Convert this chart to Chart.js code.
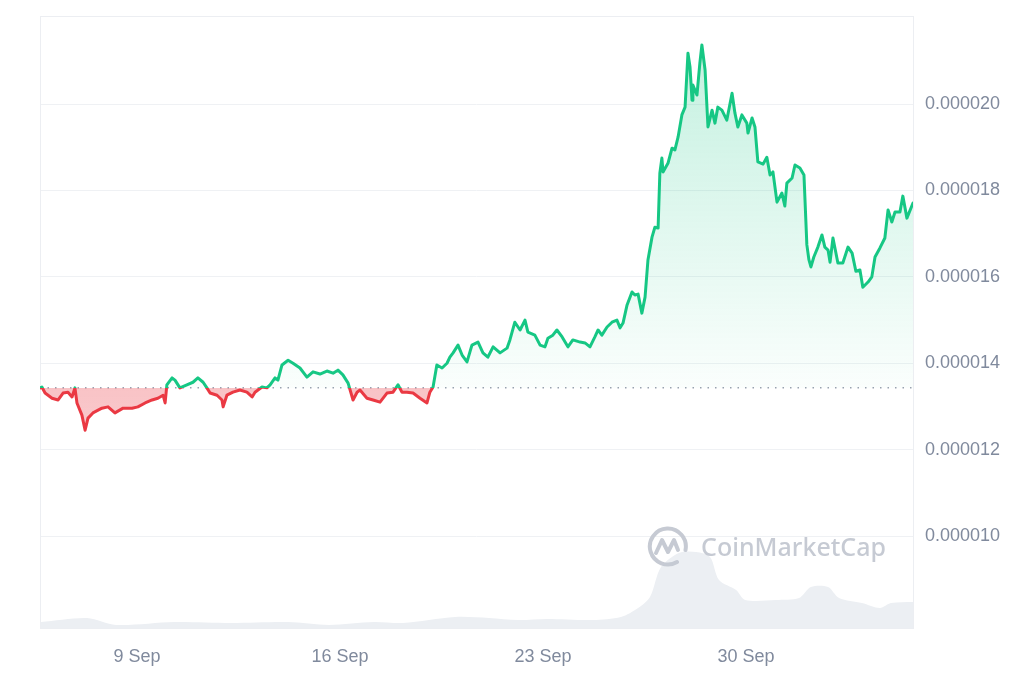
<!DOCTYPE html>
<html><head><meta charset="utf-8">
<script src="https://cdn.jsdelivr.net/npm/chart.js@4.4.1/dist/chart.umd.min.js"></script>
<style>
html,body{margin:0;padding:0;background:#fff;}
#wrap{position:relative;width:1024px;height:683px;}
#wm{position:absolute;left:647px;top:525px;display:flex;align-items:center;gap:12px;color:#c3c8d1;font-family:'Noto Sans',sans-serif;font-size:25px;font-weight:500;pointer-events:none;opacity:0.95;}
</style></head><body>
<div id="wrap"><canvas id="c"></canvas>
<div id="wm"><svg width="42" height="42" viewBox="0 0 42 42" fill="none" stroke="#c3c8d1" stroke-width="4" stroke-linecap="round" stroke-linejoin="round"><path d="M30 37 A18 18 0 1 1 38.5 25"/><path d="M9 28 L15 15 L21 27 L27 15 L31 25"/></svg><span>CoinMarketCap</span></div>
</div>
<script>
// day of September (1 Oct = 31)
const priceDays = [5.66,5.72,5.83,6.07,6.28,6.45,6.62,6.76,6.86,6.93,7.10,7.21,7.31,7.48,7.79,8.00,8.24,8.52,8.83,9.03,9.28,9.52,9.72,9.90,9.97,10.03,10.21,10.31,10.48,10.72,10.93,11.10,11.28,11.41,11.52,11.76,11.93,11.97,12.10,12.31,12.55,12.79,12.97,13.07,13.31,13.48,13.59,13.76,13.86,14.00,14.21,14.38,14.62,14.86,15.07,15.31,15.55,15.76,15.93,16.10,16.28,16.45,16.59,16.69,16.93,17.14,17.38,17.62,17.83,18.00,18.14,18.31,18.52,18.76,19.00,19.10,19.21,19.34,19.52,19.69,19.79,19.90,20.07,20.21,20.38,20.55,20.76,20.93,21.10,21.28,21.52,21.76,21.86,22.03,22.21,22.38,22.48,22.72,22.90,23.07,23.17,23.34,23.48,23.66,23.86,24.03,24.28,24.45,24.62,24.79,24.90,25.03,25.21,25.38,25.55,25.66,25.76,25.90,26.07,26.17,26.28,26.41,26.52,26.62,26.76,26.86,26.97,27.03,27.10,27.14,27.31,27.45,27.55,27.66,27.79,27.90,28.00,28.07,28.14,28.17,28.31,28.41,28.48,28.59,28.69,28.83,28.93,29.03,29.17,29.34,29.52,29.62,29.72,29.86,30.03,30.07,30.21,30.31,30.41,30.59,30.72,30.83,30.93,31.07,31.24,31.34,31.41,31.59,31.69,31.86,32.00,32.10,32.17,32.24,32.34,32.48,32.62,32.72,32.83,32.90,33.00,33.17,33.34,33.52,33.66,33.79,33.93,34.03,34.21,34.34,34.45,34.62,34.79,34.90,35.03,35.14,35.31,35.41,35.55,35.76];
const prices = [13.43e-6,13.45e-6,13.31e-6,13.19e-6,13.15e-6,13.31e-6,13.33e-6,13.22e-6,13.43e-6,13.08e-6,12.80e-6,12.45e-6,12.73e-6,12.85e-6,12.96e-6,12.99e-6,12.85e-6,12.96e-6,12.96e-6,12.99e-6,13.08e-6,13.15e-6,13.19e-6,13.26e-6,13.08e-6,13.50e-6,13.66e-6,13.61e-6,13.43e-6,13.50e-6,13.56e-6,13.66e-6,13.56e-6,13.43e-6,13.31e-6,13.26e-6,13.15e-6,12.99e-6,13.26e-6,13.33e-6,13.38e-6,13.33e-6,13.22e-6,13.33e-6,13.45e-6,13.43e-6,13.50e-6,13.66e-6,13.61e-6,13.96e-6,14.07e-6,14.00e-6,13.89e-6,13.68e-6,13.80e-6,13.75e-6,13.82e-6,13.77e-6,13.84e-6,13.73e-6,13.54e-6,13.15e-6,13.33e-6,13.38e-6,13.19e-6,13.15e-6,13.10e-6,13.31e-6,13.33e-6,13.50e-6,13.33e-6,13.33e-6,13.31e-6,13.19e-6,13.08e-6,13.33e-6,13.45e-6,13.96e-6,13.89e-6,14.00e-6,14.14e-6,14.24e-6,14.42e-6,14.19e-6,14.03e-6,14.42e-6,14.49e-6,14.24e-6,14.14e-6,14.38e-6,14.24e-6,14.35e-6,14.54e-6,14.95e-6,14.77e-6,15.00e-6,14.72e-6,14.65e-6,14.42e-6,14.38e-6,14.58e-6,14.65e-6,14.77e-6,14.61e-6,14.38e-6,14.54e-6,14.49e-6,14.47e-6,14.38e-6,14.61e-6,14.77e-6,14.65e-6,14.84e-6,14.95e-6,15.00e-6,14.82e-6,14.93e-6,15.35e-6,15.65e-6,15.58e-6,15.60e-6,15.16e-6,15.53e-6,16.39e-6,16.92e-6,17.15e-6,17.13e-6,18.40e-6,18.75e-6,18.43e-6,18.63e-6,18.98e-6,18.94e-6,19.24e-6,19.75e-6,19.93e-6,21.18e-6,20.86e-6,20.09e-6,20.44e-6,20.21e-6,20.95e-6,21.37e-6,20.79e-6,19.47e-6,19.86e-6,19.56e-6,19.93e-6,19.86e-6,19.63e-6,20.25e-6,19.79e-6,19.47e-6,19.75e-6,19.56e-6,19.33e-6,19.68e-6,19.47e-6,18.66e-6,18.61e-6,18.77e-6,18.36e-6,18.43e-6,17.73e-6,17.94e-6,17.64e-6,18.17e-6,18.29e-6,18.59e-6,18.52e-6,18.36e-6,16.74e-6,16.40e-6,16.23e-6,16.46e-6,16.69e-6,16.97e-6,16.69e-6,16.62e-6,16.34e-6,16.90e-6,16.32e-6,16.32e-6,16.69e-6,16.55e-6,16.13e-6,16.16e-6,15.76e-6,15.88e-6,16.00e-6,16.46e-6,16.67e-6,16.90e-6,17.55e-6,17.27e-6,17.50e-6,17.50e-6,17.87e-6,17.36e-6,17.71e-6];
const volumeDays = [5.69,7.28,8.28,10.28,12.24,14.21,15.62,17.17,18.17,19.97,21.14,22.14,23.14,24.72,25.69,26.28,26.69,27.07,27.69,28.28,28.76,29.07,29.66,29.97,31.03,31.83,32.24,32.83,33.21,34.00,34.62,35.00,35.76];
const volumes = [4.9,8.2,2.5,4.9,4.1,4.9,2.5,4.9,4.1,9.0,8.2,6.5,7.4,6.5,9.0,16.3,25.3,49.8,61.3,62.1,58.0,39.2,31.0,22.9,22.9,24.5,33.5,33.5,24.5,20.4,16.3,20.4,21.2];
const xTickDays = [9,16,23,30];
const xTickLabels = ['9 Sep','16 Sep','23 Sep','30 Sep'];
const yTickValues = [0.000010,0.000012,0.000014,0.000016,0.000018,0.000020];
const xRange = [5.655,35.76];
const yRange = [7.87e-6,22.04e-6];
const volumeMax = 500;
const openPrice = prices[0];

const GREEN = '#16c784', RED = '#ea3943', LABEL = '#808a9d', GRID = '#eff1f4';

function splitGrad(chart, stops){
  const a = chart.chartArea;
  const by = chart.scales.y.getPixelForValue(openPrice);
  const f = Math.min(Math.max((by - a.top)/(a.bottom - a.top),0),1);
  const g = chart.ctx.createLinearGradient(0,a.top,0,a.bottom);
  g.addColorStop(0,stops[0]); g.addColorStop(f,stops[1]);
  g.addColorStop(f,stops[2]); g.addColorStop(1,stops[3]);
  return g;
}

const framePlugin = {id:'frame', beforeDatasetsDraw(chart){
  const {ctx, chartArea:a} = chart;
  ctx.save(); ctx.strokeStyle = '#eceef2'; ctx.lineWidth = 1;
  ctx.strokeRect(Math.round(a.left)+0.5, Math.round(a.top)+0.5, Math.round(a.right-a.left), Math.round(a.bottom-a.top));
  ctx.restore();
}};

new Chart(document.getElementById('c'), {
  type:'line',
  data:{datasets:[
    {label:'Price', data: priceDays.map((d,i)=>({x:d,y:prices[i]})), yAxisID:'y',
     borderColor: ctx => ctx.chart.chartArea ? splitGrad(ctx.chart,[GREEN,GREEN,RED,RED]) : GREEN,
     backgroundColor: ctx => ctx.chart.chartArea ? splitGrad(ctx.chart,['rgba(22,199,132,0.27)','rgba(22,199,132,0.02)','rgba(234,57,67,0.30)','rgba(234,57,67,0.14)']) : 'rgba(22,199,132,0.1)',
     fill:{value: openPrice}, borderWidth:3, borderJoinStyle:'round', borderCapStyle:'round', pointRadius:0, tension:0, order:1},
    {label:'Open', data:[{x:xRange[0],y:openPrice},{x:xRange[1],y:openPrice}], yAxisID:'y',
     borderColor:'#9aa1b0', borderDash:[1.5,6], borderWidth:1.5, pointRadius:0, fill:false, order:2},
    {label:'Volume', data: volumeDays.map((d,i)=>({x:d,y:volumes[i]})), yAxisID:'yv',
     borderWidth:0, borderColor:'rgba(0,0,0,0)', backgroundColor:'#eceff3', fill:'origin', pointRadius:0, tension:0.3, order:3}
  ]},
  options:{
    responsive:true, maintainAspectRatio:false, animation:false,
    layout:{padding:{left:40, top:16, right:0, bottom:0}},
    plugins:{legend:{display:false}, tooltip:{enabled:false}},
    scales:{
      x:{type:'linear', min:xRange[0], max:xRange[1],
         grid:{display:false, drawTicks:false}, border:{display:false},
         afterBuildTicks: s => { s.ticks = xTickDays.map(v=>({value:v})); },
         ticks:{callback: v => xTickLabels[xTickDays.indexOf(v)], color:LABEL, padding:18, maxRotation:0, autoSkip:false,
                font:{family:'Liberation Sans', size:18}},
         afterFit: s => { s.height = 55; s.paddingLeft = 0; s.paddingRight = 0; }},
      y:{position:'right', min:yRange[0], max:yRange[1],
         afterBuildTicks: s => { s.ticks = yTickValues.map(v=>({value:v})); },
         ticks:{callback: v => v.toFixed(6), color:LABEL, padding:12, font:{family:'Liberation Sans', size:18}},
         grid:{color:GRID, drawTicks:false}, border:{display:true, color:'#eceef2'},
         afterFit: s => { s.width = 111; s.paddingTop = 0; s.paddingBottom = 0; }},
      yv:{display:false, min:0, max:volumeMax}
    }
  },
  plugins:[framePlugin]
});
</script>
</body></html>
